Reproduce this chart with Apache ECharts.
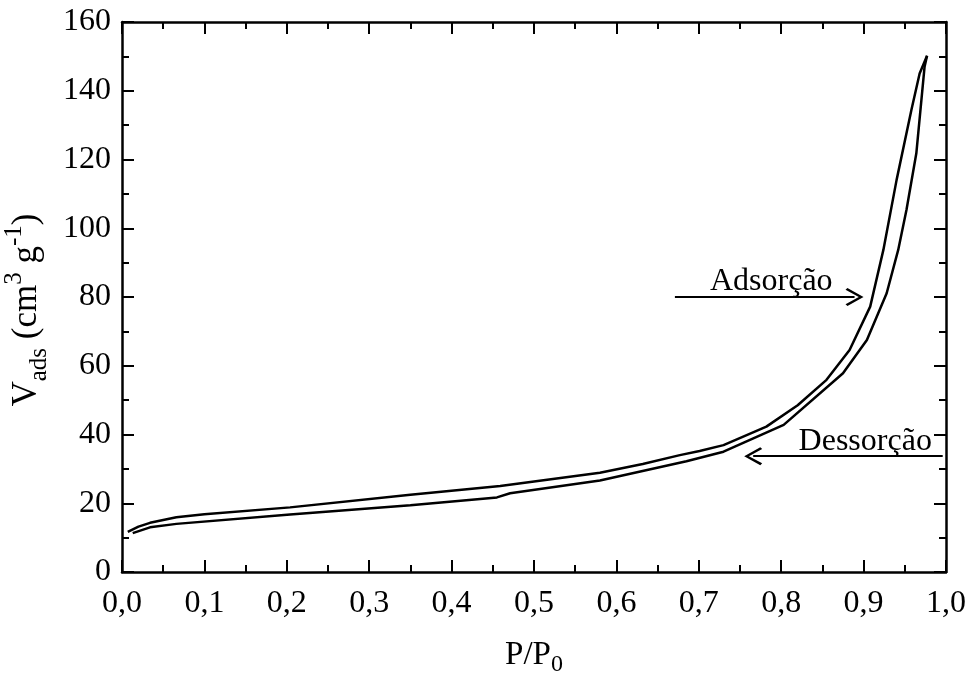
<!DOCTYPE html>
<html>
<head>
<meta charset="utf-8">
<script src="https://cdn.jsdelivr.net/npm/echarts@6/dist/echarts.min.js"></script>
<style>html,body{margin:0;padding:0;background:#fff}#c{width:968px;height:679px}</style>
</head>
<body>
<div id="c"></div>
<script>
// Upper branch (desorption) [P/P0, Vads]
const dessorcao = [
  [0.007,11.7],[0.02,13.2],[0.034,14.3],[0.066,15.9],[0.10,16.8],[0.204,18.8],
  [0.35,22.5],[0.459,25.0],[0.58,28.9],[0.632,31.4],[0.677,34.0],[0.701,35.2],
  [0.73,36.9],[0.782,42.3],[0.82,48.5],[0.855,55.9],[0.883,64.6],[0.908,77.2],
  [0.924,93.7],[0.94,114],[0.958,134.4],[0.968,145],[0.977,150.2]
];
// Lower branch (adsorption)
const adsorcao = [
  [0.013,11.3],[0.034,13.0],[0.066,14.0],[0.204,16.7],[0.35,19.4],[0.455,21.7],
  [0.471,22.9],[0.58,26.6],[0.685,32.2],[0.73,35.0],[0.803,42.8],[0.875,57.8],
  [0.904,67.5],[0.928,81.1],[0.942,93.7],[0.952,105.3],[0.964,121.8],[0.974,147],
  [0.977,150.2]
];
// Annotation arrows: [start, end] in data coordinates
const arrowAds = [[0.671,80],[0.889,80]];
const arrowDes = [[0.996,33.7],[0.766,33.7]];
const labelAds = ['Adsorção', 0.788, 84.5];
const labelDes = ['Dessorção', 0.902, 38.0];

const FONT = '"Liberation Serif","DejaVu Serif",serif';
const chevron = 'path://M10,0 L20,17 L18,19 L10,5 L2,19 L0,17 Z';
const fmt = v => v.toFixed(1).replace('.', ',');

const chart = echarts.init(document.getElementById('c'));
const axisLine = {show:true, onZero:false, lineStyle:{color:'#000', width:2.5}};
const tick = {show:true, inside:true, length:12, lineStyle:{color:'#000', width:2}};
const minor = {show:true, splitNumber:2, length:7, lineStyle:{color:'#000', width:2}};

function arrowLine(pts){
  return {
    silent:true, animation:false,
    symbol:['none', chevron], symbolSize:[18,18],
    lineStyle:{color:'#000', width:2, type:'solid'},
    label:{show:false},
    data:[[{coord:pts[0]},{coord:pts[1]}]]
  };
}
function textPoint(l){
  return {
    silent:true, animation:false,
    symbol:'circle', symbolSize:1, itemStyle:{color:'rgba(0,0,0,0)'},
    label:{show:true, position:'inside', formatter:l[0], color:'#000', fontFamily:FONT, fontSize:32},
    data:[{coord:[l[1], l[2]]}]
  };
}

chart.setOption({
  animation:false,
  grid:{left:122, right:22, top:22, bottom:107, containLabel:false, outerBoundsMode:'none'},
  xAxis:[{
    type:'value', min:0, max:1, interval:0.1,
    axisLine, axisTick:tick, minorTick:minor, splitLine:{show:false},
    axisLabel:{formatter:fmt, color:'#000', fontFamily:FONT, fontSize:32, margin:16},
    name:'{a|P/P}{s|0}', nameLocation:'middle', nameGap:61,
    nameTextStyle:{rich:{
      a:{fontFamily:FONT, fontSize:33, color:'#000', lineHeight:44, verticalAlign:'middle'},
      s:{fontFamily:FONT, fontSize:24, color:'#000', lineHeight:44, verticalAlign:'bottom'}
    }}
  },{
    type:'value', position:'top', min:0, max:1, interval:0.1,
    axisLine, axisTick:tick, minorTick:minor, splitLine:{show:false}, axisLabel:{show:false}
  }],
  yAxis:[{
    type:'value', min:0, max:160, interval:20,
    axisLine, axisTick:tick, minorTick:minor, splitLine:{show:false},
    axisLabel:{color:'#000', fontFamily:FONT, fontSize:32, margin:11},
    name:'{a|V}{s|ads}{a| (cm}{p|3}{a| g}{p|-1}{a|)}', nameLocation:'middle', nameGap:70,
    nameTextStyle:{padding:[0,26,0,0], rich:{
      a:{fontFamily:FONT, fontSize:35, color:'#000', lineHeight:50, verticalAlign:'middle'},
      s:{fontFamily:FONT, fontSize:25, color:'#000', lineHeight:50, verticalAlign:'bottom'},
      p:{fontFamily:FONT, fontSize:25, color:'#000', lineHeight:50, verticalAlign:'top'}
    }}
  },{
    type:'value', position:'right', min:0, max:160, interval:20,
    axisLine, axisTick:tick, minorTick:minor, splitLine:{show:false}, axisLabel:{show:false}
  }],
  series:[
    {name:'Dessorção', type:'line', data:dessorcao, showSymbol:false, symbol:'none',
     lineStyle:{color:'#000', width:2.5}, markLine:arrowLine(arrowDes), markPoint:textPoint(labelDes)},
    {name:'Adsorção', type:'line', data:adsorcao, showSymbol:false, symbol:'none',
     lineStyle:{color:'#000', width:2.5}, markLine:arrowLine(arrowAds), markPoint:textPoint(labelAds)}
  ]
});
</script>
</body>
</html>
